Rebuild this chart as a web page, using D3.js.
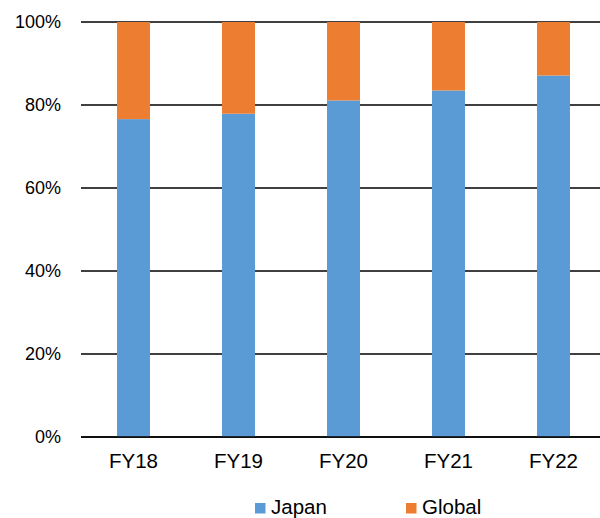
<!DOCTYPE html>
<html>
<head>
<meta charset="utf-8">
<script src="https://cdn.jsdelivr.net/npm/d3@7"></script>
<style>
  html, body { margin: 0; padding: 0; background: #fff; }
  svg { display: block; font-family: "Liberation Sans", Arial, sans-serif; }
</style>
</head>
<body>
<svg id="chart" width="600" height="518"></svg>
<script>
// Share of sales by region, per fiscal year (%)
const categories = ["FY18", "FY19", "FY20", "FY21", "FY22"];
const japan = [76.6, 77.9, 81.1, 83.5, 87.1];
const global = [23.4, 22.1, 18.9, 16.5, 12.9];
const seriesNames = ["Japan", "Global"];
const seriesColors = ["#5B9BD5", "#ED7D31"];
const yTicks = [0, 20, 40, 60, 80, 100];

const svg = d3.select("#chart");
const plot = { left: 81, right: 606, top: 22, bottom: 437 };

const x = d3.scaleBand()
  .domain(categories)
  .range([plot.left, plot.right])
  .paddingInner(0.686)
  .paddingOuter(0.343);

const y = d3.scaleLinear()
  .domain([0, 100])
  .range([plot.bottom, plot.top]);

// Horizontal gridlines
svg.append("g")
  .selectAll("line")
  .data(yTicks)
  .join("line")
  .attr("x1", plot.left)
  .attr("x2", plot.right)
  .attr("y1", d => y(d))
  .attr("y2", d => y(d))
  .attr("stroke", "#000")
  .attr("stroke-width", 1.3);

// Stacked bars
const rows = categories.map((c, i) => ({ cat: c, Japan: japan[i], Global: global[i] }));
const stacked = d3.stack().keys(seriesNames)(rows);

svg.append("g")
  .selectAll("g")
  .data(stacked)
  .join("g")
  .attr("fill", (d, i) => seriesColors[i])
  .selectAll("rect")
  .data(d => d)
  .join("rect")
  .attr("x", d => x(d.data.cat))
  .attr("width", x.bandwidth())
  .attr("y", d => y(d[1]))
  .attr("height", d => y(d[0]) - y(d[1]));

// Redraw baseline over the bars
svg.append("line")
  .attr("x1", plot.left).attr("x2", plot.right)
  .attr("y1", y(0)).attr("y2", y(0))
  .attr("stroke", "#000").attr("stroke-width", 1.3);

// Y axis labels
const yAxis = d3.axisLeft(y).tickValues(yTicks).tickFormat(d => d + "%").tickSize(0).tickPadding(20);
const gy = svg.append("g").attr("transform", `translate(${plot.left},0)`).call(yAxis);
gy.select(".domain").remove();
gy.selectAll("text")
  .attr("font-size", 18)
  .attr("fill", "#000")
  .attr("font-family", "Liberation Sans, Arial, sans-serif");

// X axis labels
const xAxis = d3.axisBottom(x).tickSize(0).tickPadding(16.4);
const gx = svg.append("g").attr("transform", `translate(0,${plot.bottom})`).call(xAxis);
gx.select(".domain").remove();
gx.selectAll("text")
  .attr("font-size", 20.5)
  .attr("fill", "#000")
  .attr("font-family", "Liberation Sans, Arial, sans-serif");

// Legend
const legendX = [255, 406];
const legend = svg.append("g")
  .selectAll("g")
  .data(seriesNames)
  .join("g")
  .attr("transform", (d, i) => `translate(${legendX[i]},503)`);
legend.append("rect")
  .attr("width", 10.5).attr("height", 10.5)
  .attr("fill", (d, i) => seriesColors[i]);
legend.append("text")
  .attr("x", 16).attr("y", 10.8)
  .attr("font-size", 20.5)
  .attr("fill", "#000")
  .text(d => d);
</script>
</body>
</html>
